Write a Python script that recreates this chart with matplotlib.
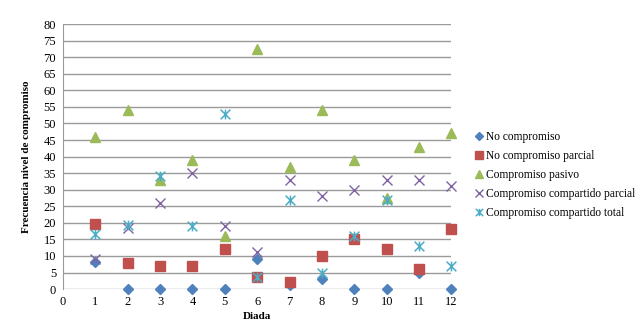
import matplotlib
matplotlib.use("Agg")
import matplotlib.pyplot as plt
from matplotlib.path import Path

diadas = [1, 2, 3, 4, 5, 6, 7, 8, 9, 10, 11, 12]
no_compromiso = [8.2, 0, 0, 0, 0, 9, 1.2, 3, 0, 0, 5, 0]
no_compromiso_parcial = [19.5, 8, 7, 7, 12, 3.5, 2, 10, 15, 12, 6, 18]
compromiso_pasivo = [46, 54, 33, 39, 16, 72.5, 37, 54, 39, 27.5, 43, 47]
compartido_parcial = [9, 18.3, 26, 35, 19, 11.3, 33, 28, 30, 33, 33, 31]
compartido_total = [16.5, 19.2, 34, 19, 53, 3.5, 27, 5, 16, 27, 13, 7]

series = ["No compromiso", "No compromiso parcial", "Compromiso pasivo",
          "Compromiso compartido parcial", "Compromiso compartido total"]

plt.rcParams['font.family'] = ['Liberation Serif', 'DejaVu Serif']

# asterisco estilo Excel: una x con barra vertical
asterisco = Path([(-1, -1), (1, 1), (-1, 1), (1, -1), (0, -1), (0, 1)],
                 [Path.MOVETO, Path.LINETO, Path.MOVETO, Path.LINETO, Path.MOVETO, Path.LINETO])

fig = plt.figure(figsize=(6.4, 3.3), dpi=100)
ax = fig.add_axes([0.0984, 0.124, 0.607, 0.803])

ax.plot(diadas, no_compromiso, "D", ms=5, color="#4F81BD", label=series[0], clip_on=False, zorder=3)
ax.plot(diadas, no_compromiso_parcial, "s", ms=7, color="#C0504D", label=series[1], clip_on=False, zorder=3)
ax.plot(diadas, compromiso_pasivo, "^", ms=7, color="#9BBB59", label=series[2], clip_on=False, zorder=3)
ax.plot(diadas, compartido_parcial, "x", ms=7, mew=1, color="#8064A2", label=series[3], clip_on=False, zorder=3)
ax.plot(diadas, compartido_total, ls="none", marker=asterisco, ms=7, mew=1.1, color="#4BACC6",
        label=series[4], clip_on=False, zorder=3)

ax.set_xlim(0, 12)
ax.set_ylim(0, 80)
ax.set_xticks(range(0, 13))
ax.set_yticks(range(0, 81, 5))
ax.yaxis.grid(True, color="#9a9a9a", lw=1)
ax.set_axisbelow(True)
for s in ["top", "right", "bottom"]:
    ax.spines[s].set_visible(False)
ax.spines["left"].set_color("#9a9a9a")
ax.tick_params(length=0, labelsize=9, pad=5)

ax.set_xlabel("Diada", fontsize=8, fontweight="bold", labelpad=3)
ax.set_ylabel("Frecuencia nivel de compromiso", fontsize=8, fontweight="bold", labelpad=9)

ax.legend(loc="center left", bbox_to_anchor=(1.062, 0.43), frameon=False, fontsize=8.3,
          markerscale=0.75, handlelength=0.6, handletextpad=0.3, labelspacing=0.62,
          borderaxespad=0, borderpad=0)

fig.savefig("out.png", dpi=100)
